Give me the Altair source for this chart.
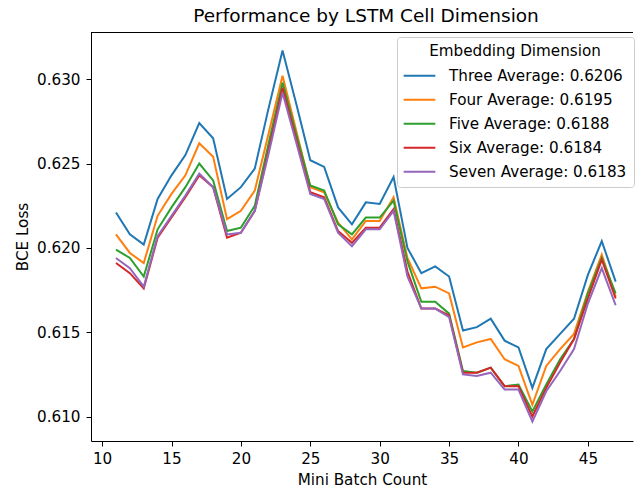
import altair as alt
import pandas as pd

# Mini batch index on the x axis
batches = list(range(11, 48))

# Mean BCE loss per mini batch for each embedding dimension
three = [0.6221, 0.6208, 0.6202, 0.6229, 0.6243, 0.6255, 0.6274, 0.6265, 0.6229, 0.6236,
         0.6247, 0.6283, 0.6317, 0.6285, 0.6252, 0.6248, 0.6224, 0.6214, 0.6227, 0.6226,
         0.6242, 0.6200, 0.6185, 0.6189, 0.6183, 0.6151, 0.6153, 0.6158, 0.6145, 0.6141,
         0.6117, 0.6140, 0.6149, 0.6158, 0.6184, 0.6204, 0.6180]
four = [0.6208, 0.6197, 0.6191, 0.6219, 0.6232, 0.6243, 0.6262, 0.6254, 0.6217, 0.6222,
        0.6234, 0.6268, 0.6302, 0.6269, 0.6236, 0.6233, 0.6215, 0.6205, 0.6216, 0.6216,
        0.6230, 0.6194, 0.6176, 0.6177, 0.6173, 0.6141, 0.6144, 0.6146, 0.6134, 0.6130,
        0.6107, 0.6130, 0.6140, 0.6149, 0.6174, 0.6196, 0.6171]
five = [0.6199, 0.6194, 0.6183, 0.6211, 0.6224, 0.6236, 0.6250, 0.6240, 0.6210, 0.6212,
        0.6225, 0.6262, 0.6298, 0.6267, 0.6237, 0.6234, 0.6214, 0.6208, 0.6218, 0.6218,
        0.6228, 0.6192, 0.6168, 0.6168, 0.6161, 0.6127, 0.6126, 0.6129, 0.6118, 0.6119,
        0.6103, 0.6119, 0.6134, 0.6146, 0.6173, 0.6194, 0.6173]
six = [0.6191, 0.6185, 0.6176, 0.6206, 0.6218, 0.6230, 0.6243, 0.6236, 0.6206, 0.6209,
       0.6222, 0.6258, 0.6295, 0.6264, 0.6233, 0.6230, 0.6210, 0.6203, 0.6212, 0.6212,
       0.6223, 0.6186, 0.6164, 0.6164, 0.6160, 0.6126, 0.6126, 0.6129, 0.6118, 0.6118,
       0.6100, 0.6117, 0.6132, 0.6146, 0.6170, 0.6193, 0.6170]
seven = [0.6194, 0.6188, 0.6177, 0.6207, 0.6219, 0.6231, 0.6244, 0.6236, 0.6208, 0.6209,
         0.6222, 0.6256, 0.6292, 0.6262, 0.6232, 0.6229, 0.6209, 0.6201, 0.6211, 0.6211,
         0.6222, 0.6183, 0.6164, 0.6164, 0.6159, 0.6125, 0.6124, 0.6126, 0.6116, 0.6116,
         0.6097, 0.6115, 0.6127, 0.6140, 0.6167, 0.6188, 0.6166]

series_names = [
    "Three Average: 0.6206",
    "Four Average: 0.6195",
    "Five Average: 0.6188",
    "Six Average: 0.6184",
    "Seven Average: 0.6183",
]
series_values = [three, four, five, six, seven]
colors = ["#1f77b4", "#ff7f0e", "#2ca02c", "#d62728", "#9467bd"]

rows = []
for order, (name, vals) in enumerate(zip(series_names, series_values)):
    for b, v in zip(batches, vals):
        rows.append({"batch": b, "loss": v, "series": name, "order": order})
df = pd.DataFrame(rows)

W, H = 542, 409
FONT = "DejaVu Sans"
FS = 15.2

lines = alt.Chart(df).mark_line(strokeWidth=2, clip=True).encode(
    x=alt.X("batch:Q",
            scale=alt.Scale(domain=[9.2, 48.25], nice=False, zero=False),
            axis=alt.Axis(values=[10, 15, 20, 25, 30, 35, 40, 45], title="Mini Batch Count",
                          grid=False, tickSize=5, labelPadding=5, titlePadding=6,
                          labelFlush=False)),
    y=alt.Y("loss:Q",
            scale=alt.Scale(domain=[0.60855, 0.6328], nice=False, zero=False),
            axis=alt.Axis(values=[0.610, 0.615, 0.620, 0.625, 0.630], format=".3f",
                          title="BCE Loss", grid=False, tickSize=5, labelPadding=6,
                          titlePadding=6)),
    color=alt.Color("series:N",
                    scale=alt.Scale(domain=series_names, range=colors),
                    legend=alt.Legend(title="Embedding Dimension", orient="none",
                                      legendX=306, legendY=5,
                                      symbolType="M-1.12,0H1.12", symbolSize=800,
                                      symbolStrokeWidth=2, symbolFillColor="transparent",
                                      titleAnchor="middle", titlePadding=1, padding=7,
                                      fillColor="white", strokeColor="#cccccc",
                                      cornerRadius=3, rowPadding=0, labelOffset=14,
                                      labelLimit=400)),
    order=alt.Order("order:Q"),
    detail="series:N",
)

# top spine of the frame
top_spine = alt.Chart(df).mark_rule(color="black", strokeWidth=1).encode(
    x=alt.value(0), x2=alt.value(W), y=alt.value(0.5)
)

chart = alt.layer(top_spine, lines).properties(
    width=W, height=H,
    title=alt.TitleParams("Performance by LSTM Cell Dimension", fontSize=18.5,
                          font=FONT, fontWeight="normal", dx=4, offset=7),
    autosize=alt.AutoSizeParams(type="none"),
    padding={"left": 91, "top": 32, "right": 2, "bottom": 48},
).configure(font=FONT).configure_view(stroke=None).configure_axis(
    labelFont=FONT, titleFont=FONT, labelFontSize=FS, titleFontSize=FS,
    titleFontWeight="normal", labelColor="black", titleColor="black",
    domainColor="black", tickColor="black", domainWidth=1,
).configure_legend(
    labelFont=FONT, titleFont=FONT, labelFontSize=FS, titleFontSize=FS,
    titleFontWeight="normal", labelColor="black", titleColor="black",
)

chart.save("out.html", embed_options={"renderer": "svg", "actions": False})
